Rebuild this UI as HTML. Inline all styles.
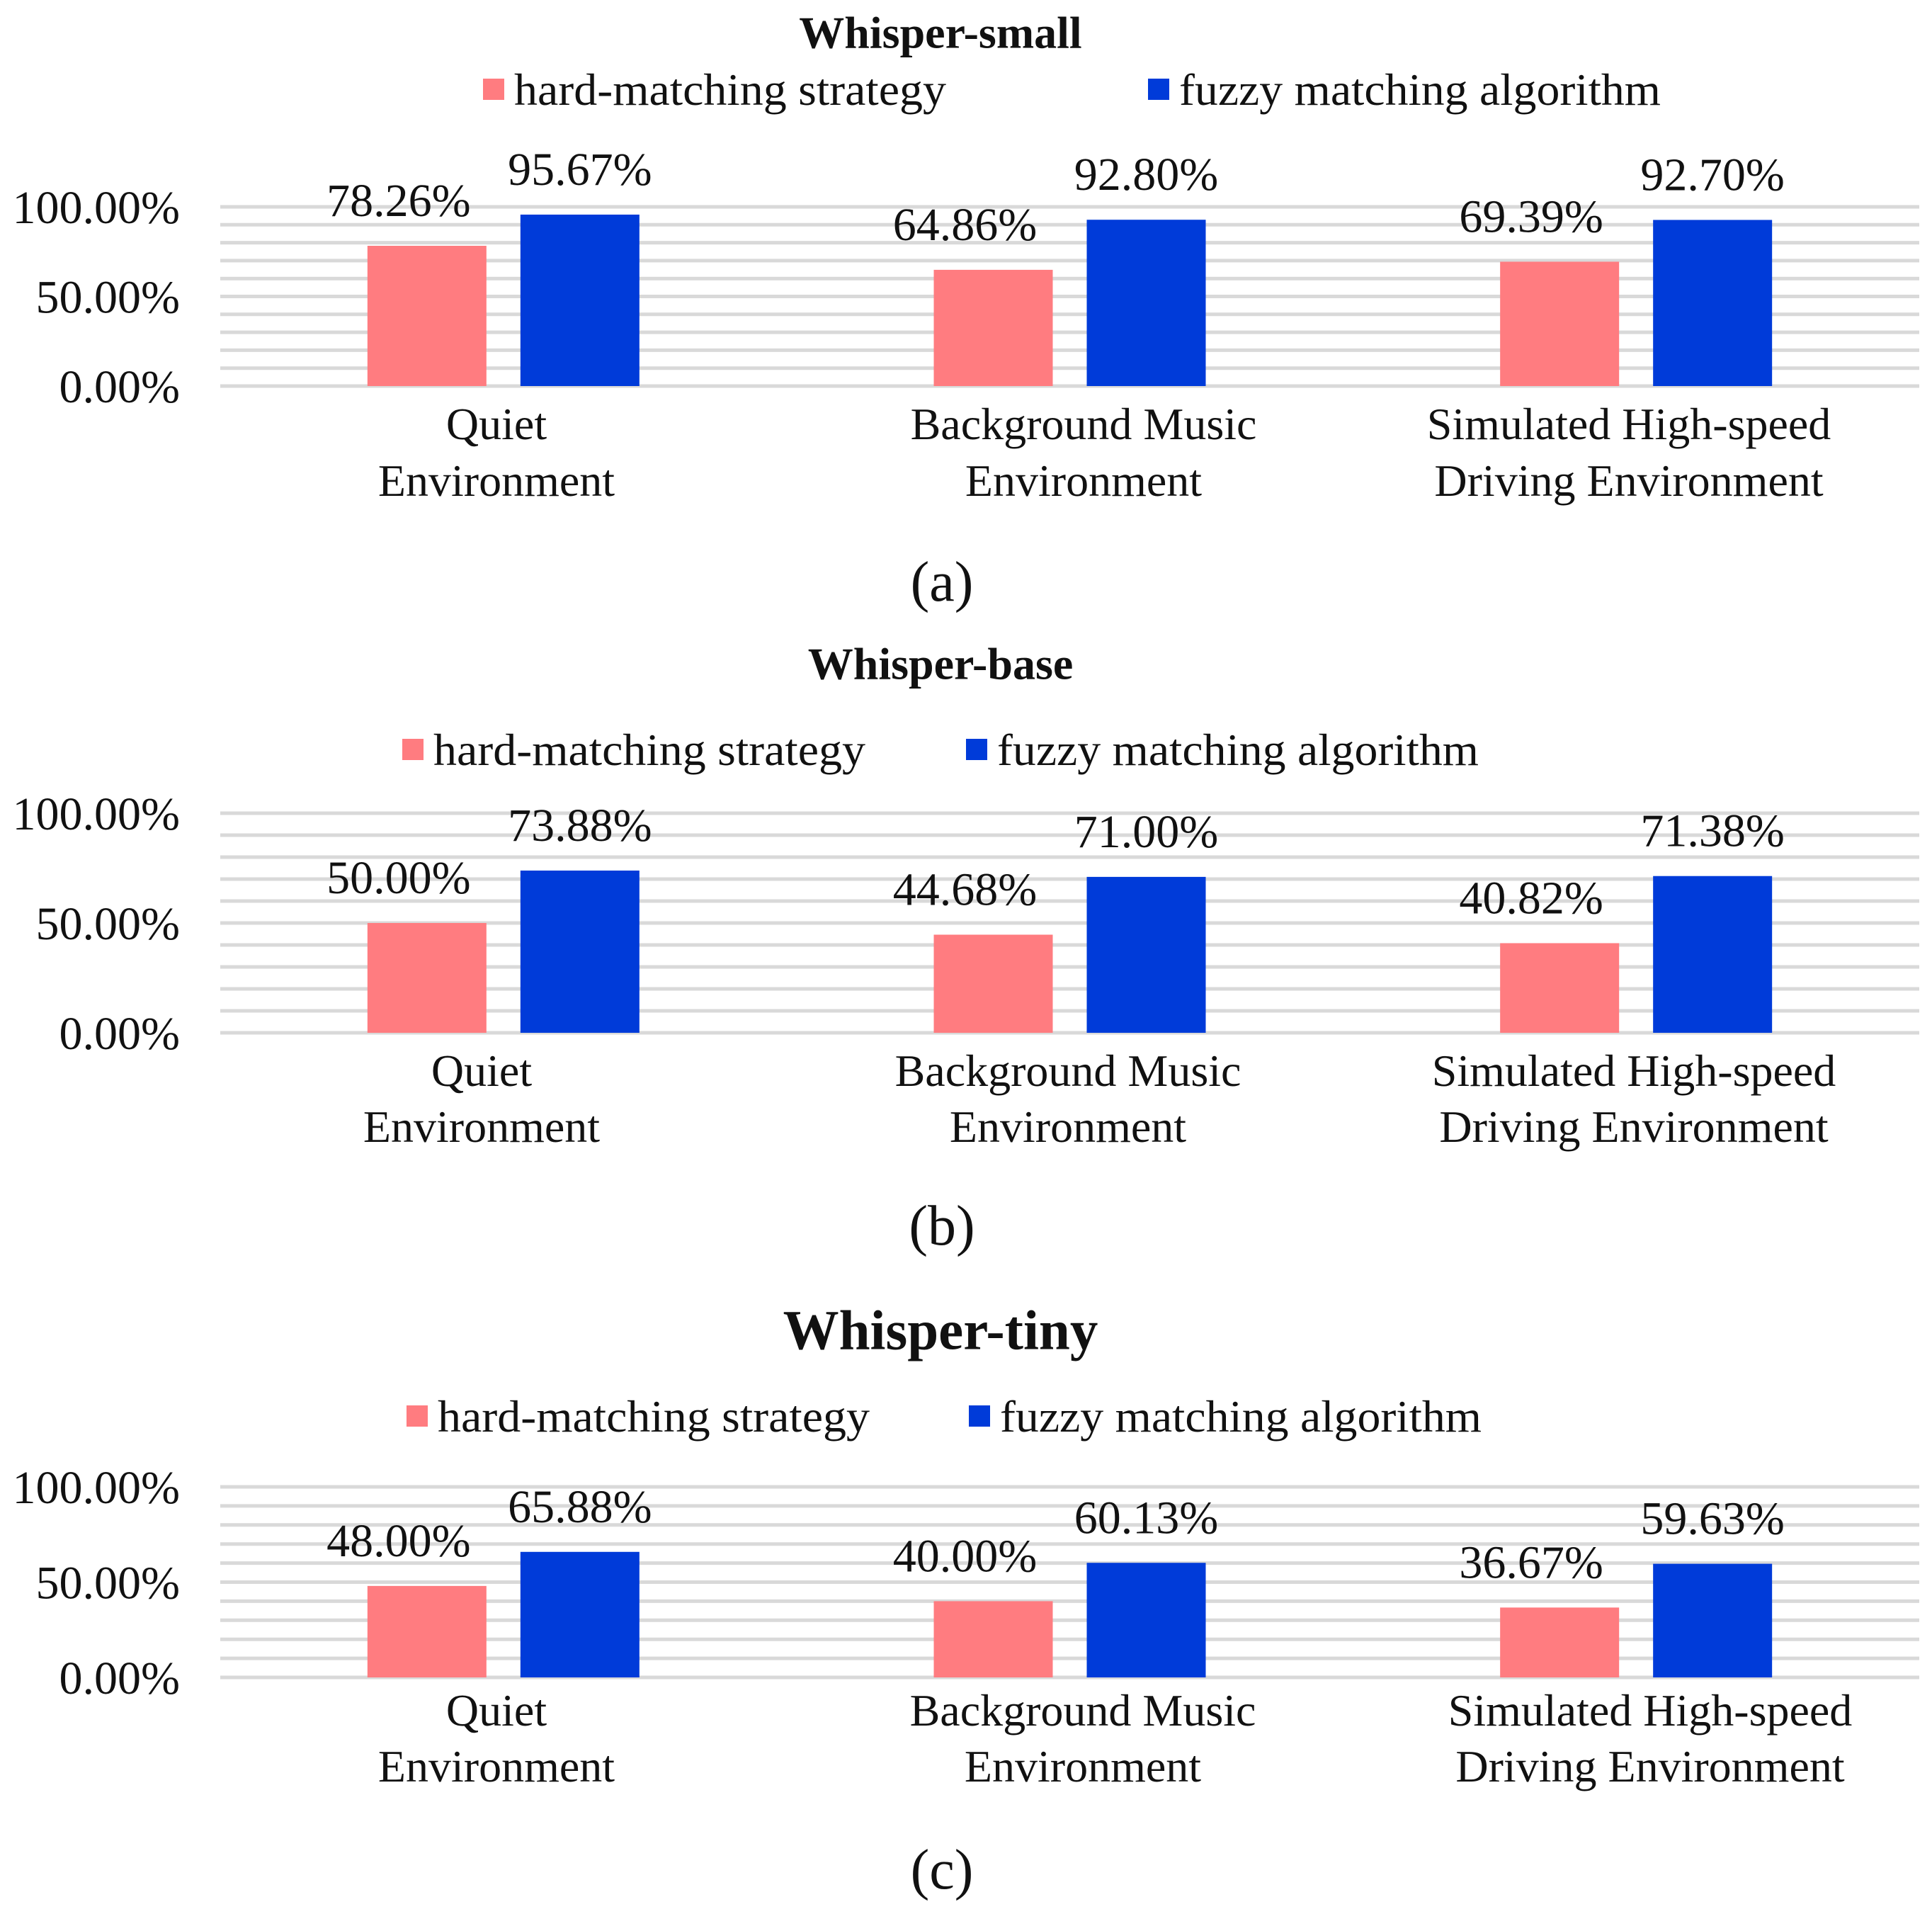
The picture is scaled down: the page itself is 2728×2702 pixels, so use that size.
<!DOCTYPE html>
<html><head><meta charset="utf-8">
<style>
html,body{margin:0;padding:0;background:#fff;}
svg{display:block;}
text{font-family:"Liberation Serif","Times New Roman",serif;fill:#111;}
</style></head>
<body>
<svg id="fig" width="2728" height="2702" viewBox="0 0 2728 2702" xmlns="http://www.w3.org/2000/svg"></svg>
<script>
const categories = [["Quiet","Environment"],["Background Music","Environment"],["Simulated High-speed","Driving Environment"]];
const seriesNames = ["hard-matching strategy","fuzzy matching algorithm"];
const titles = ["Whisper-small","Whisper-base","Whisper-tiny"];
const captions = ["(a)","(b)","(c)"];
const hardSmall = [78.26, 64.86, 69.39];
const fuzzySmall = [95.67, 92.80, 92.70];
const hardBase = [50.00, 44.68, 40.82];
const fuzzyBase = [73.88, 71.00, 71.38];
const hardTiny = [48.00, 40.00, 36.67];
const fuzzyTiny = [65.88, 60.13, 59.63];
const tickLabels = ["0.00%","50.00%","100.00%"];
const tickValues = [0, 50, 100];

const layouts = [
  {title:45, titleSize:64, legendY:128, legX:[682,1621], y0:545, y100:292, catY:[620,700], catX:[701,1530,2300], capY:848, hard:hardSmall, fuzzy:fuzzySmall},
  {title:936, titleSize:64, legendY:1060, legX:[568,1364], y0:1458, y100:1148, catY:[1533,1612], catX:[680,1508,2307], capY:1757, hard:hardBase, fuzzy:fuzzyBase},
  {title:1877, titleSize:79, legendY:2001, legX:[574,1368], y0:2368, y100:2099, catY:[2436,2515], catX:[701,1529,2330], capY:2666, hard:hardTiny, fuzzy:fuzzyTiny}
];
const colors = ["#FF7C80","#003BD9"];
const NS = "http://www.w3.org/2000/svg";
const svg = document.getElementById('fig');
const plotL = 311, plotR = 2710;
function mk(tag, attrs, parent){const e=document.createElementNS(NS,tag);for(const k in attrs)e.setAttribute(k,attrs[k]);(parent||svg).appendChild(e);return e;}
function xBand(i){return plotL + (plotR-plotL)/3*(i+0.5);}

layouts.forEach((L, ci) => {
  const g = mk('g', {});
  
  
  const yS = v => L.y0 - (L.y0 - L.y100) * v / 100;
  const t = mk('text', {x:1328, y:L.title + L.titleSize*0.35, 'text-anchor':'middle', 'font-size':L.titleSize, 'font-weight':'bold'}, g);
  t.textContent = titles[ci];
  
  
  seriesNames.forEach((n, si) => {
    const r = mk('rect', {x:L.legX[si], y:L.legendY-17, width:30, height:30, fill:colors[si]}, g);
    
    
    const lt = mk('text', {x:L.legX[si]+44, y:L.legendY+20, 'font-size':64, textLength: si===0 ? 610 : 680, lengthAdjust:'spacingAndGlyphs'}, g);
    lt.textContent = n;
    
    
  });
  for (let v = 0; v <= 100; v += 10) {
    const gl = mk('line', {x1:plotL, x2:plotR, y1:yS(v), y2:yS(v), stroke:'#D9D9D9', 'stroke-width':5}, g);
    
    
  }
  tickValues.forEach((v, ti) => {
    const tt = mk('text', {x:254, y:yS(v)+23, 'text-anchor':'end', 'font-size':66}, g);
    tt.textContent = tickLabels[ti];
    
    
  });
  const bw = 168, gap = 24;
  categories.forEach((c, i) => {
    const cx = xBand(i);
    [L.hard, L.fuzzy].forEach((arr, si) => {
      const v = arr[i];
      const x = si === 0 ? cx - gap - bw : cx + gap;
      const b = mk('rect', {x:x, y:yS(v), width:bw, height:L.y0 - yS(v), fill:colors[si]}, g);
      
      
      const vl = mk('text', {x:x + bw/2 + (si===0 ? -40 : 0), y:yS(v) - 42, 'text-anchor':'middle', 'font-size':66}, g);
      vl.textContent = v.toFixed(2) + '%';
      
      
    });
    c.forEach((line, li) => {
      const cl = mk('text', {x:L.catX[i], y:L.catY[li], 'text-anchor':'middle', 'font-size':64}, g);
      cl.textContent = line;
      
      
    });
  });
  const cap = mk('text', {x:1330, y:L.capY, 'text-anchor':'middle', 'font-size':80}, g);
  cap.textContent = captions[ci];
  
  
});
</script>
</body></html>
